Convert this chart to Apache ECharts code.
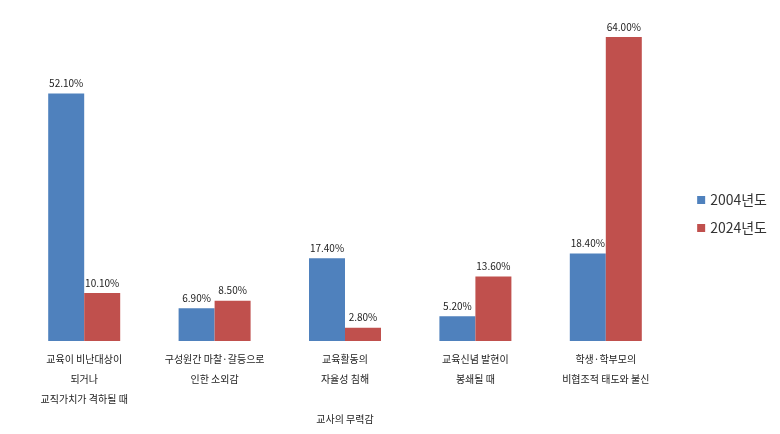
<!DOCTYPE html><html><head><meta charset="utf-8"><script src="https://cdn.jsdelivr.net/npm/echarts@6/dist/echarts.min.js"></script></head><body style="margin:0;background:#fff"><div id="c" style="width:780px;height:434px"></div><script>
const categories=["교육이 비난대상이\n되거나\n교직가치가 격하될 때","구성원간 마찰·갈등으로\n인한 소외감","교육활동의\n자율성 침해","교육신념 발현이\n봉쇄될 때","학생·학부모의\n비협조적 태도와 불신"];
const s2004=[52.1,6.9,17.4,5.2,18.4];
const s2024=[10.1,8.5,2.8,13.6,64.0];
const F="'Noto Sans CJK KR','Noto Sans',sans-serif";
const lab={show:true,position:'top',color:'#222',fontSize:10,fontFamily:F,formatter:p=>p.value.toFixed(2)+'%'};
echarts.init(document.getElementById('c')).setOption({
animation:false,
grid:{left:19,right:109,top:37,bottom:93},
legend:{orient:'vertical',right:8,top:188,itemWidth:8,itemHeight:8,itemGap:14,icon:'rect',textStyle:{fontSize:14,color:'#333',fontFamily:F}},
xAxis:{type:'category',data:categories,name:'교사의 무력감',nameLocation:'middle',nameGap:71,nameTextStyle:{fontSize:10,color:'#222',fontFamily:F},axisLine:{show:false},axisTick:{show:false},axisLabel:{fontSize:10,color:'#222',lineHeight:20,margin:8,fontFamily:F,interval:0}},
yAxis:{type:'value',min:0,max:64,show:false},
series:[{name:'2004년도',type:'bar',data:s2004,barWidth:36,barGap:'0%',itemStyle:{color:'#4f81bd'},label:lab},
{name:'2024년도',type:'bar',data:s2024,barWidth:36,itemStyle:{color:'#c0504d'},label:lab}]});
</script></body></html>
